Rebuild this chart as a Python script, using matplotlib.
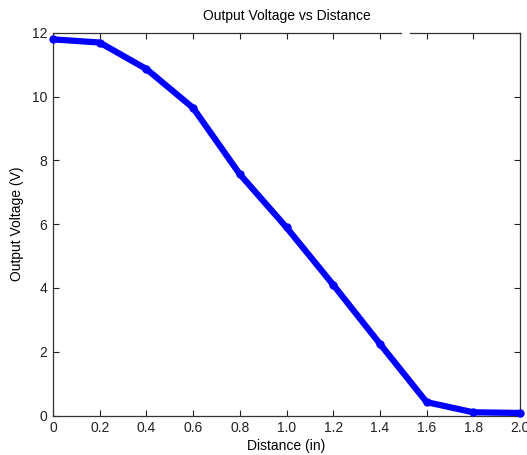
import matplotlib
matplotlib.use("Agg")
import matplotlib.pyplot as plt

distance = [0.0, 0.2, 0.4, 0.6, 0.8, 1.0, 1.2, 1.4, 1.6, 1.8, 2.0]
voltage = [11.8, 11.7, 10.87, 9.65, 7.57, 5.9, 4.1, 2.25, 0.42, 0.1, 0.08]
xticks = [0, 0.2, 0.4, 0.6, 0.8, 1.0, 1.2, 1.4, 1.6, 1.8, 2.0]
xticklabels = ["0", "0.2", "0.4", "0.6", "0.8", "1.0", "1.2", "1.4", "1.6", "1.8", "2.0"]
yticks = [0, 2, 4, 6, 8, 10, 12]

plt.rcParams['font.family'] = ['Liberation Sans', 'DejaVu Sans']
fig = plt.figure(figsize=(5.27, 4.55), dpi=100)
ax = fig.add_axes([0.1006, 0.0868, 0.8861, 0.8407])

ax.plot(distance, voltage, color='#0000ff', linewidth=4.5, marker='o',
        markersize=5, markerfacecolor='#0000ff', markeredgecolor='#0000ff',
        solid_joinstyle='round', solid_capstyle='round', clip_on=False, zorder=3)

ax.set_xlim(0, 2)
ax.set_ylim(0, 12)
ax.set_xticks(xticks)
ax.set_xticklabels(xticklabels)
ax.set_yticks(yticks)
ax.tick_params(direction='in', length=4, width=0.8, labelsize=10, top=True, right=True,
               color='#222222', labelcolor='#222222', pad=4)
for s in ax.spines.values():
    s.set_linewidth(0.9)
    s.set_color('#333333')
ax.spines['top'].set_visible(False)
ax.plot([0, 0.745], [1, 1], transform=ax.transAxes, color='#333333', lw=0.9, clip_on=False)
ax.plot([0.765, 1], [1, 1], transform=ax.transAxes, color='#333333', lw=0.9, clip_on=False)

ax.set_title('Output Voltage vs Distance', fontsize=10, pad=9)
ax.set_xlabel('Distance (in)', fontsize=10, labelpad=3)
ax.set_ylabel('Output Voltage (V)', fontsize=10, labelpad=6)

fig.savefig('out.png', dpi=100)
